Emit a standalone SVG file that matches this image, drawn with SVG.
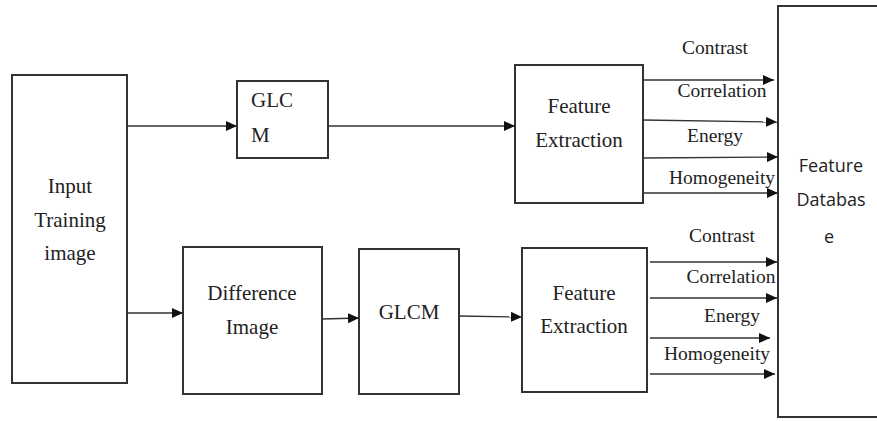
<svg xmlns="http://www.w3.org/2000/svg" width="877" height="421" viewBox="0 0 877 421">
<style>
.box{fill:#fff;stroke:#333;stroke-width:2}
.t{font-family:"Liberation Serif","Times New Roman",serif;font-size:21px;fill:#222;text-anchor:middle}
.l{font-family:"Liberation Serif","Times New Roman",serif;font-size:19.5px;fill:#222;text-anchor:middle}
.s{font-family:"Open Sans","DejaVu Sans",sans-serif;font-size:18px;fill:#222;text-anchor:middle}
.c line{stroke:#333;stroke-width:1.3;marker-end:url(#ah)}
</style>
<defs>
<marker id="ah" markerUnits="userSpaceOnUse" markerWidth="12" markerHeight="10" refX="11" refY="5" orient="auto">
<path d="M0,0 L11,5 L0,10 Z" fill="#111"/>
</marker>
</defs>
<rect width="877" height="421" fill="#fff"/>
<g id="input">
<rect class="box" x="12" y="75" width="115" height="308"/>
<text class="t" x="70" y="193">Input</text>
<text class="t" x="70" y="227">Training</text>
<text class="t" x="70" y="260">image</text>
</g>
<g id="glcm1">
<rect class="box" x="237" y="81" width="91" height="77"/>
<text class="t" x="251" y="107" style="text-anchor:start">GLC</text>
<text class="t" x="251" y="142" style="text-anchor:start">M</text>
</g>
<g id="fe1">
<rect class="box" x="515" y="65" width="128" height="138"/>
<text class="t" x="579" y="113">Feature</text>
<text class="t" x="579" y="147">Extraction</text>
</g>
<g id="diff">
<rect class="box" x="183" y="247" width="139" height="147"/>
<text class="t" x="252" y="300">Difference</text>
<text class="t" x="252" y="334">Image</text>
</g>
<g id="glcm2">
<rect class="box" x="359" y="249" width="100" height="145"/>
<text class="t" x="409" y="319">GLCM</text>
</g>
<g id="fe2">
<rect class="box" x="522" y="248" width="125" height="144"/>
<text class="t" x="584" y="300">Feature</text>
<text class="t" x="584" y="333">Extraction</text>
</g>
<g id="db">
<rect class="box" x="778" y="6" width="110" height="411"/>
<text class="s" x="831" y="172">Feature</text>
<text class="s" x="831" y="206">Databas</text>
<text class="s" x="829" y="243">e</text>
</g>
<g id="connectors" class="c">
<line x1="127" y1="126" x2="237" y2="126"/>
<line x1="127" y1="313" x2="183" y2="313"/>
<line x1="328" y1="126" x2="515" y2="126"/>
<line x1="322" y1="319" x2="359" y2="318"/>
<line x1="459" y1="316" x2="522" y2="317"/>
<line x1="643" y1="80" x2="774" y2="80"/>
<line x1="643" y1="120" x2="777" y2="122"/>
<line x1="643" y1="158" x2="778" y2="157"/>
<line x1="643" y1="193" x2="778" y2="193"/>
<line x1="650" y1="262" x2="777" y2="262"/>
<line x1="650" y1="298" x2="777" y2="298"/>
<line x1="650" y1="338" x2="770" y2="338"/>
<line x1="650" y1="374" x2="775" y2="374"/>
</g>
<g id="labels">
<text class="l" x="715" y="54">Contrast</text>
<text class="l" x="722" y="97">Correlation</text>
<text class="l" x="715" y="142">Energy</text>
<text class="l" x="722" y="184">Homogeneity</text>
<text class="l" x="722" y="242">Contrast</text>
<text class="l" x="731" y="283">Correlation</text>
<text class="l" x="732" y="322">Energy</text>
<text class="l" x="717" y="360">Homogeneity</text>
</g>
</svg>
